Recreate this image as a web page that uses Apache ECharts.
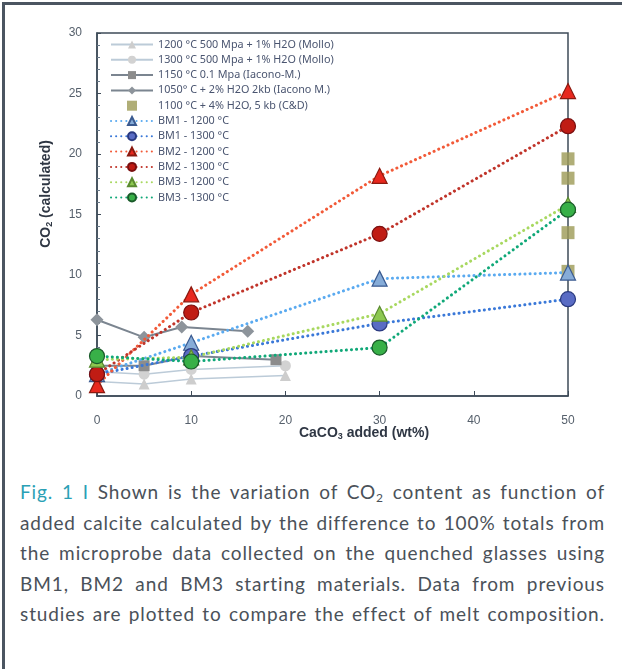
<!DOCTYPE html>
<html><head><meta charset="utf-8">
<script src="https://cdn.jsdelivr.net/npm/echarts@6/dist/echarts.min.js"></script>
<style>
html,body{margin:0;padding:0;background:#fff;width:622px;height:669px;overflow:hidden;}
#frame{position:absolute;left:2px;top:2px;width:640px;height:680px;border-left:3px solid #4b5561;border-top:3px solid #4b5561;z-index:5;pointer-events:none;}
#chart{position:absolute;left:0;top:0;width:622px;height:460px;}
#cap{position:absolute;left:20px;top:477px;width:585px;font-family:Lato,"Noto Sans",sans-serif;font-size:19px;letter-spacing:0.9px;line-height:30.5px;color:#4a5159;}
#cap div{text-align:justify;text-align-last:justify;}
#cap .fig{color:#2aa0b5;}
#cap sub{font-size:12px;vertical-align:-3px;line-height:0;}
</style></head>
<body>
<div id="chart"></div>
<div id="frame"></div>
<div id="cap">
<div><span class="fig">Fig. 1 I</span> Shown is the variation of CO<sub>2</sub> content as function of</div>
<div>added calcite calculated by the difference to 100% totals from</div>
<div>the microprobe data collected on the quenched glasses using</div>
<div>BM1, BM2 and BM3 starting materials. Data from previous</div>
<div>studies are plotted to compare the effect of melt composition.</div>
</div>
<script>
// ---- data ----
const xMollo = [0, 5, 10, 20];
const mollo1200 = [1.2, 1.0, 1.4, 1.7];
const mollo1300 = [2.0, 1.8, 2.2, 2.5];
const xIac1150 = [0, 5, 10, 19];
const iac1150 = [2.5, 2.5, 3.3, 3.0];
const xIac1050 = [0, 5, 9, 16];
const iac1050 = [6.3, 4.85, 5.7, 5.35];
const xCD = [50, 50, 50, 50];
const cd = [19.6, 18.0, 13.5, 10.3];
const xBM = [0, 10, 30, 50];
const bm1_1200 = [1.8, 4.4, 9.7, 10.2];
const bm1_1300 = [1.8, 3.3, 6.0, 8.0];
const bm2_1200 = [0.9, 8.4, 18.2, 25.2];
const bm2_1300 = [1.8, 6.9, 13.4, 22.3];
const bm3_1200 = [3.0, 3.2, 6.8, 15.8];
const bm3_1300 = [3.3, 2.85, 4.0, 15.4];
const names = [
  '1200 °C 500 Mpa + 1% H2O (Mollo)',
  '1300 °C 500 Mpa + 1% H2O (Mollo)',
  '1150 °C 0.1 Mpa (Iacono-M.)',
  '1050° C + 2% H2O 2kb (Iacono M.)',
  '1100 °C + 4% H2O, 5 kb (C&D)',
  'BM1 - 1200 °C',
  'BM1 - 1300 °C',
  'BM2 - 1200 °C',
  'BM2 - 1300 °C',
  'BM3 - 1200 °C',
  'BM3 - 1300 °C'
];
const xTicks = [0, 10, 20, 30, 40, 50];
const yTicks = [0, 5, 10, 15, 20, 25, 30];

const zip = (xs, ys) => xs.map((x, i) => [x, ys[i]]);

function solid(name, xs, ys, lineColor, sym, symColor, size, w) {
  return {name, type:'line', data: zip(xs, ys), symbol: sym, symbolSize: size,
    lineStyle:{color: lineColor, width: w, type:'solid'},
    itemStyle:{color: symColor, borderColor: symColor, borderWidth: 0}, z: 2};
}
function dotted(name, ys, lineColor, sym, fill, border) {
  return {name, type:'line', data: zip(xBM, ys), symbol: sym, symbolSize: 15,
    lineStyle:{color: lineColor, width: 3, type:[0.1, 5], cap:'round'},
    itemStyle:{color: fill, borderColor: border, borderWidth: 1.2}, z: 3};
}

const chart = echarts.init(document.getElementById('chart'));
chart.setOption({
  animation: false,
  backgroundColor: '#fff',
  grid: {left: 97, right: 54, top: 33, bottom: 64, show: true, borderColor: '#3e4b58', borderWidth: 1.5, backgroundColor: 'transparent'},
  legend: {
    orient: 'vertical', left: 110, top: 39, padding: 0, itemWidth: 42, itemHeight: 10, itemGap: 4.3,
    data: names.map((n, i) => i === 4 ? {name: n, icon: 'path://M0,0h10v10h-10z'} : n),
    textStyle: {fontFamily: '"Noto Sans", sans-serif', fontSize: 10.8, color: '#4a5570'}
  },
  xAxis: {
    type: 'value', min: 0, max: 50, interval: 10,
    axisLine: {show: true, lineStyle: {color: '#3e4b58', width: 1.5}},
    axisTick: {show: true, inside: true, length: 5, lineStyle: {color: '#3e4b58'}},
    axisLabel: {margin: 19, color: '#56606c', fontSize: 12, fontFamily: '"Liberation Sans", sans-serif',
      formatter: v => xTicks.includes(v) ? String(v) : ''},
    splitLine: {show: false}
  },
  yAxis: {
    type: 'value', min: 0, max: 30, interval: 5,
    axisLine: {show: true, lineStyle: {color: '#3e4b58', width: 1.5}},
    axisTick: {show: true, inside: true, length: 4, lineStyle: {color: '#3e4b58'}},
    minorTick: {show: true, splitNumber: 5, length: 3, lineStyle: {color: '#6a7a8a'}},
    axisLabel: {margin: 15, color: '#56606c', fontSize: 12, fontFamily: '"Liberation Sans", sans-serif',
      formatter: v => yTicks.includes(v) ? String(v) : ''},
    splitLine: {show: false}
  },
  graphic: [
    {type: 'text', x: 46, y: 194, rotation: Math.PI / 2,
      style: {text: '{a|CO}{b|2}{a| (calculated)}', align: 'center', verticalAlign: 'middle',
        rich: {a: {fontSize: 14, fontWeight: 'bold', fill: '#2f3744', fontFamily: '"Liberation Sans", sans-serif'},
               b: {fontSize: 9, fontWeight: 'bold', fill: '#2f3744', padding: [7, 0, 0, 0], fontFamily: '"Liberation Sans", sans-serif'}}}},
    {type: 'text', x: 364, y: 433,
      style: {text: '{a|CaCO}{b|3}{a| added (wt%)}', align: 'center', verticalAlign: 'middle',
        rich: {a: {fontSize: 14, fontWeight: 'bold', fill: '#2f3744', fontFamily: '"Liberation Sans", sans-serif'},
               b: {fontSize: 9, fontWeight: 'bold', fill: '#2f3744', padding: [7, 0, 0, 0], fontFamily: '"Liberation Sans", sans-serif'}}}}
  ],
  series: [
    solid(names[0], xMollo, mollo1200, '#bccbd8', 'triangle', '#cdcdcd', 11, 1.5),
    solid(names[1], xMollo, mollo1300, '#bccbd8', 'circle', '#d2d2d2', 11, 1.5),
    solid(names[2], xIac1150, iac1150, '#7b8590', 'rect', '#8c8c8c', 11, 2),
    solid(names[3], xIac1050, iac1050, '#7b8590', 'diamond', '#8d949b', 13, 2),
    {name: names[4], type: 'scatter', data: zip(xCD, cd), symbol: 'rect', symbolSize: 13,
      itemStyle: {color: '#9c9a55'}, z: 2},
    dotted(names[5], bm1_1200, '#5aaaf0', 'triangle', '#86acd8', '#3a5a90'),
    dotted(names[6], bm1_1300, '#3a78d8', 'circle', '#5a6cc4', '#2a3a80'),
    dotted(names[7], bm2_1200, '#f25a38', 'triangle', '#e8281e', '#8a1a10'),
    dotted(names[8], bm2_1300, '#c0342a', 'circle', '#c01c14', '#7a1010'),
    dotted(names[9], bm3_1200, '#a8d860', 'triangle', '#8cc850', '#5a8a30'),
    dotted(names[10], bm3_1300, '#10a878', 'circle', '#38b048', '#1a5a2a')
  ]
});
</script>
</body></html>
